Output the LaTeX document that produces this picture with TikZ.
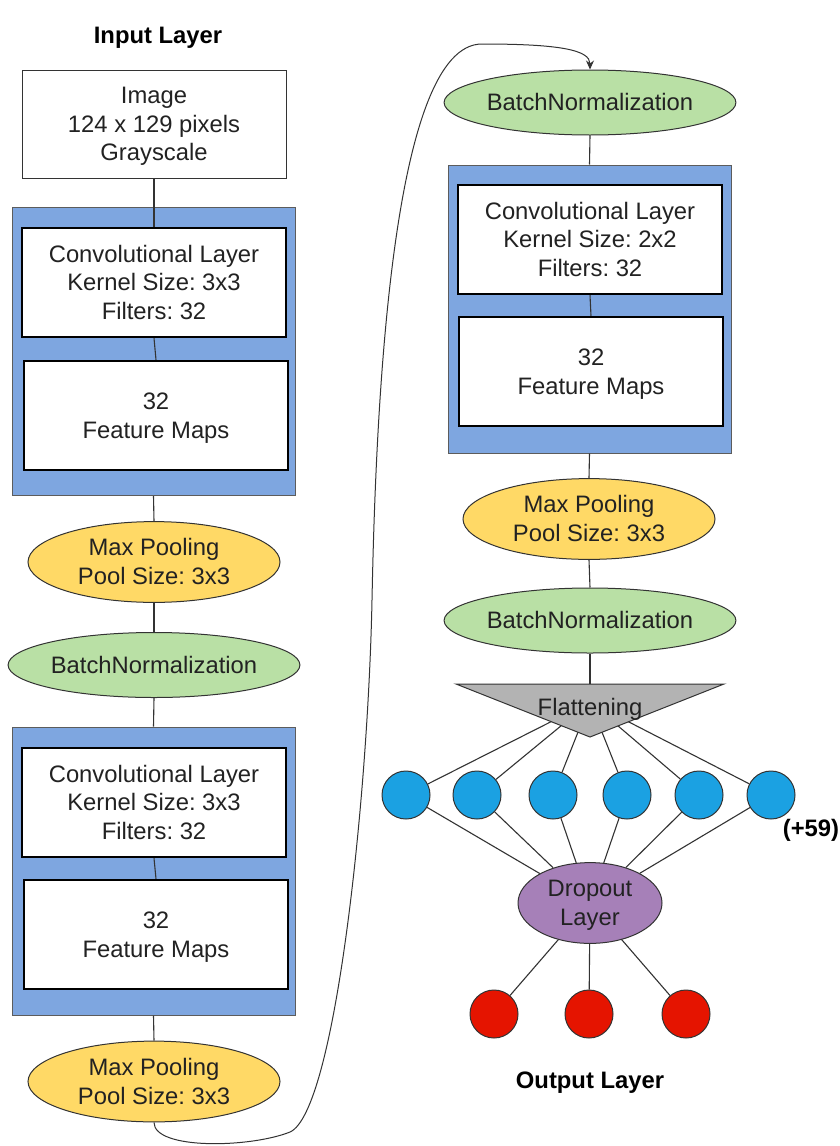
\documentclass[tikz,border=0pt]{standalone}
\usepackage{fontspec}
\setmainfont{Liberation Sans}
\frenchspacing
\usetikzlibrary{shapes.geometric,arrows.meta}
\definecolor{contblue}{HTML}{7EA6E0}
\definecolor{poolyellow}{HTML}{FFD966}
\definecolor{bngreen}{HTML}{B9E0A5}
\definecolor{droppurple}{HTML}{A680B8}
\definecolor{neublue}{HTML}{1BA1E2}
\definecolor{outred}{HTML}{E51400}
\definecolor{flatgray}{HTML}{B3B3B3}
\definecolor{txt}{HTML}{222222}
\definecolor{edge}{HTML}{333333}
\newcommand{\ds}{\vrule height 22.5pt depth 6.06pt width 0pt}
\begin{document}
\begin{tikzpicture}[x=1pt,y=-1pt,
  lbl/.style={font=\fontsize{23.8}{28.56}\selectfont\frenchspacing, text=txt},
  oneline/.style={execute at begin node=\ds},
  titlelbl/.style={font=\bfseries\fontsize{23.8}{28.56}\selectfont, text=black, oneline},
  plainbox/.style={draw=edge, line width=1pt, fill=white, minimum width=264pt, minimum height=108pt, inner sep=0pt, align=center, lbl},
  box/.style={draw=black, line width=2.5pt, fill=white, minimum width=264pt, minimum height=109pt, inner sep=0pt, align=center, lbl},
  container/.style={draw=edge!80, line width=1pt, fill=contblue, minimum width=283pt, minimum height=288pt, inner sep=0pt},
  ell/.style={ellipse, draw=edge, line width=1pt, inner sep=0pt, align=center, lbl},
  pool/.style={ell, fill=poolyellow, minimum width=252pt, minimum height=77pt},
  bnorm/.style={ell, fill=bngreen, minimum width=247pt, minimum height=65pt},
  neuron/.style={circle, draw=edge, line width=1pt, fill=neublue, minimum size=48pt, inner sep=0pt},
  outn/.style={circle, draw=edge, line width=1pt, fill=outred, minimum size=48pt, inner sep=0pt},
  conn/.style={draw=edge, line width=1.1pt}
]
\useasboundingbox[fill=white] (0,0) rectangle (839,1146);

% ---------- left column ----------
\node[titlelbl] (inlbl) at (158,35) {Input Layer};
\node[plainbox] (img) at (154,124) {\ds Image\\\ds 124 x 129 pixels\\\ds Grayscale};

\node[container] (cont1) at (153.5,351.5) {};
\node[box] (conv1) at (154,282.5) {\ds Convolutional Layer\\\ds Kernel Size: 3x3\\\ds Filters: 32};
\node[box] (fm1) at (156,415.5) {\ds 32\\\ds Feature Maps};

\node[pool] (mp1) at (154,562) {\ds Max Pooling\\\ds Pool Size: 3x3};
\node[bnorm, oneline] (bn1) at (154,665) {BatchNormalization};

\node[container] (cont2) at (153.5,871) {};
\node[box] (conv2) at (154,802.5) {\ds Convolutional Layer\\\ds Kernel Size: 3x3\\\ds Filters: 32};
\node[box] (fm2) at (156,934.5) {\ds 32\\\ds Feature Maps};

\node[pool] (mp2) at (154,1081.5) {\ds Max Pooling\\\ds Pool Size: 3x3};

\draw[conn] (img.south) -- (conv1.north);
\draw[conn] (conv1.south) -- (fm1.north);
\draw[conn] (cont1.south) -- (mp1.north);
\draw[conn] (mp1.south) -- (bn1.north);
\draw[conn] (bn1.south) -- (cont2.north);
\draw[conn] (conv2.south) -- (fm2.north);
\draw[conn] (cont2.south) -- (mp2.north);

% ---------- right column ----------
\node[bnorm, oneline] (bn3) at (590,102.5) {BatchNormalization};
\node[container] (cont3) at (589.5,309) {};
\node[box] (conv3) at (590,239.5) {\ds Convolutional Layer\\\ds Kernel Size: 2x2\\\ds Filters: 32};
\node[box] (fm3) at (591,371.5) {\ds 32\\\ds Feature Maps};
\node[pool] (mp3) at (589,519) {\ds Max Pooling\\\ds Pool Size: 3x3};
\node[bnorm, oneline] (bn4) at (590,620.5) {BatchNormalization};

\draw[conn] (bn3.south) -- (cont3.north);
\draw[conn] (conv3.south) -- (fm3.north);
\draw[conn] (cont3.south) -- (mp3.north);
\draw[conn] (mp3.south) -- (bn4.north);

% long connector from left column to right column
\draw[draw=edge, line width=1pt, -{Stealth[length=9pt,width=8pt]}]
  (mp2.south) .. controls (154,1150) and (250,1148) .. (290,1132)
  .. controls (335,1112) and (368,800) .. (372,600)
  .. controls (376,400) and (392,44) .. (482,44)
  .. controls (560,44) and (590,50) .. (bn3.north);

% ---------- dense part ----------
\coordinate (ftl) at (456,684);
\coordinate (ftr) at (724,684);
\coordinate (fap) at (590,737);
\coordinate (ftop) at (590,684);
\coordinate (fc) at (590,702);

\node[neuron] (n1) at (406,795) {};
\node[neuron] (n2) at (477,795) {};
\node[neuron] (n3) at (553,795) {};
\node[neuron] (n4) at (627,795) {};
\node[neuron] (n5) at (699,795) {};
\node[neuron] (n6) at (771,795) {};
\node[titlelbl, anchor=center] (more) at (811,828) {(+59)};

\node[ell, fill=droppurple, minimum width=144pt, minimum height=65pt] (drop) at (590,903) {\ds Dropout\\\ds Layer};

\foreach \i in {1,...,6} {
  \draw[conn] (fc) -- (n\i);
  \draw[conn] (n\i) -- (drop);
}
\draw[conn] (bn4.south) -- (ftop);
\draw[draw=edge, line width=1pt, fill=flatgray] (ftl) -- (ftr) -- (fap) -- cycle;
\node[lbl, oneline] (flat) at (590,707) {Flattening};

\node[outn] (o1) at (494,1014) {};
\node[outn] (o2) at (589,1014) {};
\node[outn] (o3) at (686,1014) {};
\draw[conn] (drop) -- (o1);
\draw[conn] (drop) -- (o2);
\draw[conn] (drop) -- (o3);

\node[titlelbl] (outlbl) at (590,1080) {Output Layer};
\end{tikzpicture}
\end{document}
